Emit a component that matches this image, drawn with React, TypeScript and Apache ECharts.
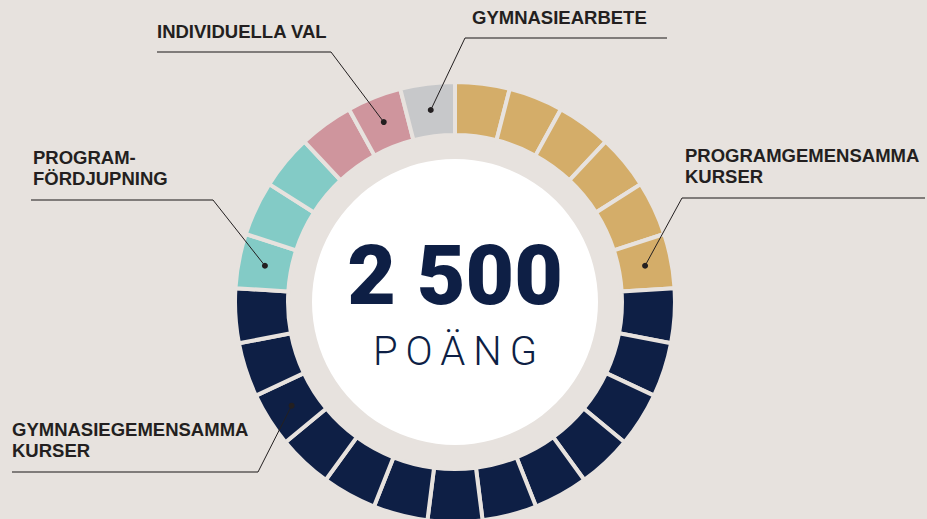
import React, { useEffect, useRef } from "react";
import * as echarts from "echarts";

// ---- data ----
const categories = [
  "PROGRAMGEMENSAMMA KURSER",
  "GYMNASIEGEMENSAMMA KURSER",
  "PROGRAMFÖRDJUPNING",
  "INDIVIDUELLA VAL",
  "GYMNASIEARBETE",
];
const points = [600, 1300, 300, 200, 100];
const blockSize = 100;
const colors = ["#D4AD69", "#0E1F45", "#83CBC6", "#CF959D", "#C7C8CA"];
const labelLines = [
  ["PROGRAMGEMENSAMMA", "KURSER"],
  ["GYMNASIEGEMENSAMMA", "KURSER"],
  ["PROGRAM-", "FÖRDJUPNING"],
  ["INDIVIDUELLA VAL"],
  ["GYMNASIEARBETE"],
];
// block (within its category) that the leader dot points at
const dotBlock = [5, 10, 0, 1, 0];
const totalLabel = "2 500";
const unitLabel = "POÄNG";

// ---- layout ----
const W = 927;
const H = 519;
const BG = "#E7E2DE";
const CX = 455;
const CY = 302;
const R_OUT = 220;
const R_IN = 167;
const GAP = 4;
const R_WHITE = 143;
const LINE_H = 21.6;
const LABEL_FONT = 18.5;
// label layout: text left x, horizontal line y, line x from/to, elbow x
const labelLayout = [
  { tx: 685, ly: 198, x1: 682, x2: 925, ex: 682 },
  { tx: 12, ly: 472, x1: 12, x2: 258, ex: 258 },
  { tx: 33, ly: 200, x1: 31, x2: 213, ex: 213 },
  { tx: 157, ly: 52, x1: 157, x2: 331, ex: 331 },
  { tx: 472, ly: 38, x1: 465, x2: 667, ex: 465 },
];

export default function App() {
  const ref = useRef<HTMLDivElement>(null);
  useEffect(() => {
    if (!ref.current) return;
    const chart = echarts.init(ref.current, null, { renderer: "svg" });

    const data: any[] = [];
    const startIndex: number[] = [];
    let k = 0;
    points.forEach((p, c) => {
      startIndex.push(k);
      const n = Math.round(p / blockSize);
      for (let b = 0; b < n; b++) {
        data.push({ value: blockSize, name: categories[c], itemStyle: { color: colors[c] } });
        k++;
      }
    });
    const totalBlocks = k;
    const rMid = (R_OUT - GAP / 2 + R_IN + GAP / 2) / 2;

    const graphics: any[] = [];
    graphics.push({
      type: "circle",
      shape: { cx: CX, cy: CY, r: R_WHITE },
      style: { fill: "#FFFFFF" },
      silent: true,
    });
    graphics.push({
      type: "text",
      x: CX,
      y: 275,
      style: {
        text: totalLabel,
        fill: "#0E1F45",
        fontFamily: "Roboto",
        fontWeight: 900,
        fontSize: 84,
        align: "center",
        verticalAlign: "middle",
      },
      silent: true,
    });
    graphics.push({
      type: "text",
      x: CX + 4,
      y: 351,
      style: {
        text: unitLabel,
        fill: "#0E1F45",
        fontFamily: "Roboto",
        fontWeight: 300,
        fontSize: 40,
        align: "center",
        verticalAlign: "middle",
      },
      silent: true,
    });

    labelLayout.forEach((L, c) => {
      const idx = startIndex[c] + dotBlock[c];
      const ang = ((90 - ((idx + 0.5) * 360) / totalBlocks) * Math.PI) / 180;
      const dx = CX + rMid * Math.cos(ang);
      const dy = CY - rMid * Math.sin(ang);
      graphics.push({
        type: "line",
        shape: { x1: L.x1, y1: L.ly, x2: L.x2, y2: L.ly },
        style: { stroke: "#5E5A59", lineWidth: 1.6 },
        silent: true,
        z: 10,
      });
      graphics.push({
        type: "line",
        shape: { x1: L.ex, y1: L.ly, x2: dx, y2: dy },
        style: { stroke: "#231F20", lineWidth: 1 },
        silent: true,
        z: 10,
      });
      graphics.push({
        type: "circle",
        shape: { cx: dx, cy: dy, r: 3 },
        style: { fill: "#231F20" },
        silent: true,
        z: 11,
      });
      const lines = labelLines[c];
      const lastCenter = L.ly - 21;
      const blockCenter = lastCenter - ((lines.length - 1) * LINE_H) / 2;
      graphics.push({
        type: "text",
        x: L.tx,
        y: blockCenter,
        style: {
          text: lines.join("\n"),
          fill: "#231F20",
          fontFamily: "Liberation Sans",
          fontWeight: "bold",
          fontSize: LABEL_FONT,
          lineHeight: LINE_H,
          align: "left",
          verticalAlign: "middle",
        },
        silent: true,
        z: 10,
      });
    });

    chart.setOption({
      animation: false,
      backgroundColor: BG,
      series: [
        {
          type: "pie",
          center: [CX, CY],
          radius: [R_IN, R_OUT],
          startAngle: 90,
          clockwise: true,
          silent: true,
          label: { show: false },
          labelLine: { show: false },
          emphasis: { disabled: true },
          itemStyle: { borderColor: BG, borderWidth: GAP },
          data,
        },
      ],
      graphic: graphics,
    });

    // widen letter spacing of the unit label
    const texts = ref.current.querySelectorAll("text");
    texts.forEach((el) => {
      if (el.textContent === unitLabel) {
        el.setAttribute("letter-spacing", "8");
      }
    });

    return () => chart.dispose();
  }, []);
  return (
    <div
      ref={ref}
      style={{ position: "fixed", left: 0, top: 0, width: W, height: H }}
    />
  );
}
